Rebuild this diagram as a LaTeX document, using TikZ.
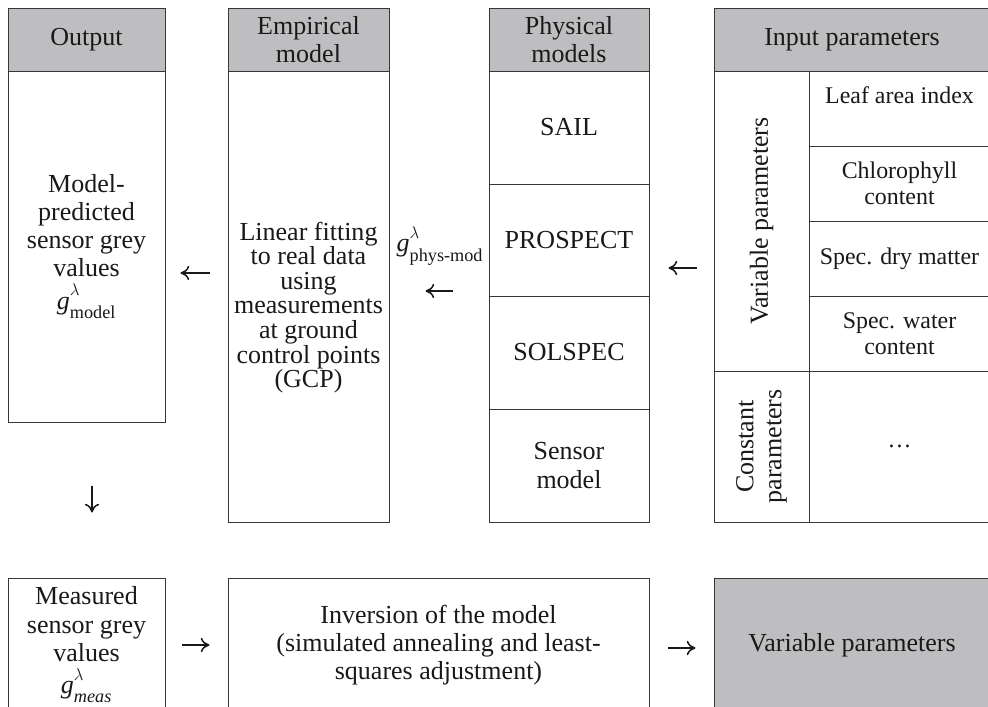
\documentclass[tikz,border=0pt]{standalone}
\usepackage{amsmath}
\usepackage{fontspec}
\setmainfont{Liberation Serif}
\usetikzlibrary{arrows.meta}
\definecolor{figHead}{RGB}{190,190,193}
\definecolor{figLine}{RGB}{55,55,55}
\definecolor{figInk}{RGB}{25,25,25}
\tikzset{
  figcell/.style={draw=figLine,line width=0.7pt,fill=white,text=figInk,align=center,inner sep=2pt,font=\fontsize{18.5}{20}\selectfont},
  fighead/.style={figcell,fill=figHead},
  figsmallcell/.style={figcell,font=\fontsize{17}{18.5}\selectfont},
  figtext/.style={text=figInk,align=center,inner sep=1pt,font=\fontsize{18.5}{20}\selectfont},
  figflow/.style={-{To[length=2.2mm,width=3.6mm]},draw=figInk,line width=1.1pt},
}
\newcommand{\GreyVal}[1]{\mathit{g}^{\raisebox{3pt}{$\scriptstyle\lambda$}}_{\raisebox{-2.5pt}{$\scriptstyle#1$}}}

\begin{document}
\begin{tikzpicture}[x=0.25mm,y=-0.25mm]
\useasboundingbox (0,0) rectangle (988,707);

% Output column.
\node[fighead,minimum width=3.925cm,minimum height=1.575cm] (outhead) at (86.5,39.5) {Output};
\node[figcell,minimum width=3.925cm,minimum height=8.775cm] (outbody) at (86.5,246.5)
  {Model-\\predicted\\sensor grey\\values\\[3pt]$\GreyVal{\text{model}}$};

% Empirical model.
\node[fighead,minimum width=4.025cm,minimum height=1.575cm] (emphead) at (308.5,39.5) {Empirical\\model};
\node[figcell,minimum width=4.025cm,minimum height=11.275cm] (empbody) at (308.5,296.5) {};
\node[figtext,font=\fontsize{18.5}{17.5}\selectfont] (emptext) at (308.5,307.5)
  {Linear fitting\\to real data\\using\\measurements\\at ground\\control points\\(GCP)};

% Physical models.
\node[fighead,minimum width=4cm,minimum height=1.575cm] (phyhead) at (569,39.5) {Physical\\models};
\node[figcell,minimum width=4cm,minimum height=2.825cm] (sail) at (569,127.5) {SAIL};
\node[figcell,minimum width=4cm,minimum height=2.8cm] (prospect) at (569,240) {PROSPECT};
\node[figcell,minimum width=4cm,minimum height=2.825cm] (solspec) at (569,352.5) {SOLSPEC};
\node[figcell,minimum width=4cm,minimum height=2.825cm] (sensor) at (569,465.5) {Sensor\\model};

% Input parameters.
\node[fighead,minimum width=6.9cm,minimum height=1.575cm] (inhead) at (852,39.5) {Input parameters};
\node[figcell,rotate=90,minimum width=7.5cm,minimum height=2.375cm] (varcol) at (761.5,221) {Variable parameters};
\node[figcell,rotate=90,minimum width=3.775cm,minimum height=2.375cm] (constcol) at (761.5,446.5) {Constant\\parameters};
\node[figsmallcell,minimum width=4.525cm,minimum height=1.875cm] (lai) at (899.5,108.5) {Leaf area index\\\mbox{}};
\node[figsmallcell,minimum width=4.525cm,minimum height=1.875cm] (chl) at (899.5,183.5) {Chlorophyll\\content};
\node[figsmallcell,minimum width=4.525cm,minimum height=1.875cm] (dry) at (899.5,258.5) {Spec. dry matter};
\node[figsmallcell,minimum width=4.525cm,minimum height=1.875cm] (water) at (899.5,333.5) {Spec. water\\content};
\node[figsmallcell,minimum width=4.525cm,minimum height=3.775cm] (other) at (899.5,446.5) {\dots};

\node[figtext] (gphys) at (440,246) {$\GreyVal{\text{phys-mod}}$};

% Bottom row.
\node[figcell,minimum width=3.925cm,minimum height=3.35cm] (meas) at (86.5,645)
  {Measured\\sensor grey\\values\\[3pt]$\GreyVal{\mathit{meas}}$};
\node[figcell,minimum width=10.525cm,minimum height=3.35cm] (invert) at (438.5,645)
  {Inversion of the model\\(simulated annealing and least-\\squares adjustment)};
\node[fighead,minimum width=6.9cm,minimum height=3.35cm] (varout) at (852,645) {Variable parameters};

% Arrow levels.
\coordinate (lvlA) at (0,273);
\coordinate (lvlB) at (0,291);
\coordinate (lvlC) at (0,268);
\coordinate (lvlD) at (0,645);
\coordinate (lvlE) at (0,648);
\coordinate (colF) at (92,0);

\draw[figflow,shorten <=4.5mm,shorten >=3.75mm] (lvlA -| empbody.west) -- (lvlA -| outbody.east);
\draw[figflow,shorten <=9mm,shorten >=9mm] (lvlB -| prospect.west) -- (lvlB -| empbody.east);
\draw[figflow,shorten <=4.25mm,shorten >=4.75mm] (lvlC -| inhead.west) -- (lvlC -| sail.east);
\draw[figflow,shorten <=15.75mm,shorten >=16.25mm] (colF |- outbody.south) -- (colF |- meas.north);
\draw[figflow,shorten <=4.25mm,shorten >=4.5mm] (lvlD -| meas.east) -- (lvlD -| invert.west);
\draw[figflow,shorten <=4.5mm,shorten >=4.5mm] (lvlE -| invert.east) -- (lvlE -| varout.west);
\end{tikzpicture}
\end{document}
